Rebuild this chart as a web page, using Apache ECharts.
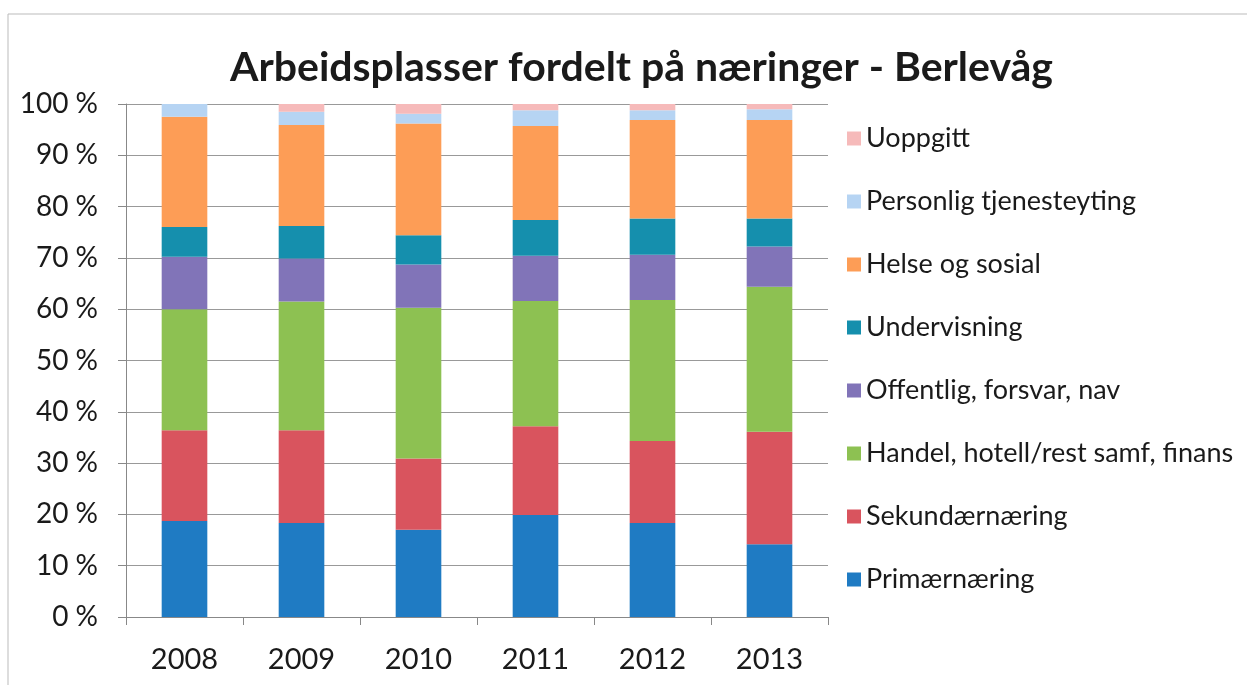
<!DOCTYPE html>
<html>
<head>
<meta charset="utf-8">
<script src="https://cdn.jsdelivr.net/npm/echarts@6/dist/echarts.min.js"></script>
<style>
  html, body { margin: 0; padding: 0; background: #fff; }
  #main { width: 1247px; height: 685px; }
</style>
</head>
<body>
<div id="main"></div>
<script>
var years = ['2008', '2009', '2010', '2011', '2012', '2013'];

// andel i prosent, lest av figuren
var primaer   = [18.7, 18.3, 17.0, 19.9, 18.3, 14.2];
var sekundaer = [17.7, 18.1, 13.9, 17.3, 16.0, 21.9];
var handel    = [23.6, 25.1, 29.4, 24.4, 27.5, 28.3];
var offentlig = [10.2, 8.4, 8.4, 8.8, 8.8, 7.8];
var underv    = [5.8, 6.3, 5.7, 7.0, 7.1, 5.5];
var helse     = [21.5, 19.7, 21.8, 18.3, 19.2, 19.2];
var personlig = [2.5, 2.6, 1.9, 3.1, 1.9, 2.1];
var uoppgitt  = [0.0, 1.5, 1.9, 1.2, 1.2, 1.0];

var names = ['Primærnæring', 'Sekundærnæring', 'Handel, hotell/rest samf, finans',
    'Offentlig, forsvar, nav', 'Undervisning', 'Helse og sosial',
    'Personlig tjenesteyting', 'Uoppgitt'];
var values = [primaer, sekundaer, handel, offentlig, underv, helse, personlig, uoppgitt];
var colors = ['#1f7bc3', '#d9545e', '#8dc152', '#8174b8', '#158fad', '#fd9d56', '#b6d4f3', '#f6baba'];

var chart = echarts.init(document.getElementById('main'));

var series = [];
for (var i = 0; i < names.length; i++) {
    series.push({
        name: names[i],
        type: 'bar',
        stack: 'total',
        barWidth: '39%',
        itemStyle: { color: colors[i] },
        data: values[i]
    });
}

var font = 'Lato, "Open Sans", sans-serif';

option = {
    animation: false,
    textStyle: { fontFamily: font },
    title: {
        text: 'Arbeidsplasser fordelt på næringer - Berlevåg',
        left: 225,
        top: 42,
        textStyle: { fontSize: 41, fontWeight: 'bold', color: '#1a1a1a', fontFamily: font }
    },
    legend: {
        orient: 'vertical',
        left: 842,
        top: 120,
        itemWidth: 14,
        itemHeight: 14,
        itemGap: 36,
        icon: 'rect',
        data: names.slice().reverse(),
        textStyle: { fontSize: 27, color: '#1a1a1a', lineHeight: 25, fontFamily: font }
    },
    grid: { left: 126, right: 419, top: 104, bottom: 68 },
    xAxis: {
        type: 'category',
        data: years,
        axisLine: { lineStyle: { color: '#888' } },
        axisTick: { show: true, length: 8, lineStyle: { color: '#888' } },
        axisLabel: { fontSize: 29, color: '#1a1a1a', margin: 28 }
    },
    yAxis: {
        type: 'value',
        min: 0,
        max: 100,
        interval: 10,
        axisLine: { show: true, lineStyle: { color: '#888' } },
        axisTick: { show: true, length: 8, lineStyle: { color: '#888' } },
        splitLine: { lineStyle: { color: '#999' } },
        axisLabel: { fontSize: 28, color: '#1a1a1a', margin: 28, formatter: '{value} %' }
    },
    graphic: [{
        type: 'rect',
        shape: { x: 8, y: 14, width: 1250, height: 700 },
        style: { fill: 'none', stroke: '#bbb', lineWidth: 1 }
    }],
    series: series
};

chart.setOption(option);
</script>
</body>
</html>
